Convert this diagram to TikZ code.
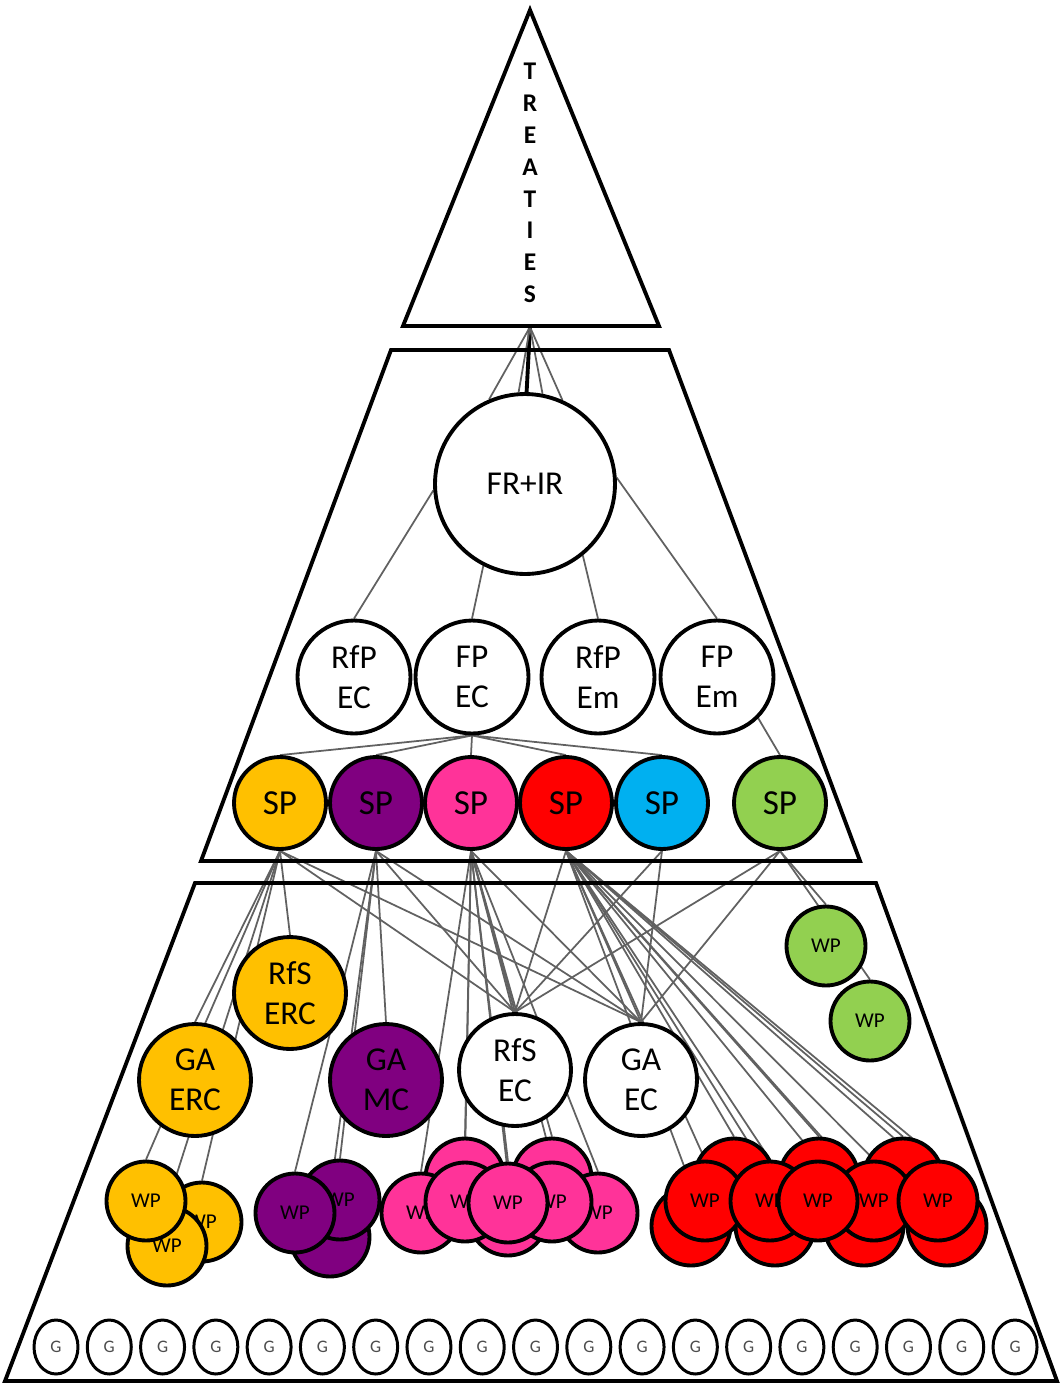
\documentclass[tikz,border=0pt]{standalone}
\usepackage{fontspec}
\setmainfont{Carlito}
\usetikzlibrary{positioning, shapes.geometric, backgrounds}
\definecolor{spyellow}{HTML}{FFC000}
\definecolor{sppurple}{HTML}{800080}
\definecolor{sppink}{HTML}{FF3399}
\definecolor{spred}{HTML}{FF0000}
\definecolor{spblue}{HTML}{00B0F0}
\definecolor{spgreen}{HTML}{92D050}
\begin{document}
\begin{tikzpicture}[
    x=0.02cm, y=-0.02cm,
    frame/.style={draw, line width=2.2pt, line join=miter},
    link/.style={draw=black!62, line width=1pt},
    bond/.style={draw, line width=2.2pt},
    blob/.style={circle, draw, line width=2.2pt, fill=white, inner sep=0pt, align=center},
    topc/.style={blob, minimum size=3.6cm, font=\fontsize{19}{23}\selectfont},
    progc/.style={blob, minimum size=2.26cm, font=\fontsize{19}{22.7}\selectfont},
    spc/.style={blob, minimum size=1.84cm, font=\fontsize{20}{24}\selectfont},
    instc/.style={blob, minimum size=2.24cm, font=\fontsize{19}{22.7}\selectfont},
    wpc/.style={blob, minimum size=1.58cm, font=\fontsize{12}{14}\selectfont},
    gc/.style={ellipse, draw, line width=1.7pt, fill=white, inner sep=0pt, minimum width=0.88cm, minimum height=1.08cm, font=\fontsize{10}{12}\selectfont, text=black!70}
]
    \useasboundingbox (0,0) rectangle (1060,1384);

    % levels
    \coordinate (apex) at (530,10);
    \coordinate (treatyBase) at (530,327);
    \draw[frame] (apex) -- (659,326) -- (403,326) -- cycle;
    \draw[frame] (391,350) -- (669,350) -- (860,861) -- (201,861) -- cycle;
    \draw[frame] (195,883) -- (876,883) -- (1057,1381) -- (5,1381) -- cycle;
    \node[font=\bfseries\fontsize{14.5}{18.1}\selectfont, align=center, inner sep=0pt] (treaties) at (530,183) {T\\R\\E\\A\\T\\I\\E\\S};

    \node[topc] (frir) at (525,484) {FR+IR};
    \node[progc] (rfpEC) at (354,677) {RfP\\EC};
    \node[progc] (fpEC) at (472,677) {FP\\EC};
    \node[progc] (rfpEm) at (598,677) {RfP\\Em};
    \node[progc] (fpEm) at (717,677) {FP\\Em};

    \node[spc, fill=spyellow] (sp1) at (280,803) {SP};
    \node[spc, fill=sppurple] (sp2) at (376,803) {SP};
    \node[spc, fill=sppink] (sp3) at (471,803) {SP};
    \node[spc, fill=spred] (sp4) at (566,803) {SP};
    \node[spc, fill=spblue] (sp5) at (662,803) {SP};
    \node[spc, fill=spgreen] (sp6) at (780,803) {SP};

    \node[instc, fill=spyellow] (rfsERC) at (290,993) {RfS\\ERC};
    \node[instc, fill=spyellow] (gaERC) at (195,1080) {GA\\ERC};
    \node[instc, fill=sppurple] (gaMC) at (386,1080) {GA\\MC};
    \node[instc] (rfsEC) at (515,1070) {RfS\\EC};
    \node[instc] (gaEC) at (641,1080) {GA\\EC};

    \node[wpc, fill=spgreen] (wpG1) at (826,946) {WP};
    \node[wpc, fill=spgreen] (wpG2) at (870,1021) {WP};

    \node[wpc, fill=spyellow] (wpY1) at (202,1222) {WP};
    \node[wpc, fill=spyellow] (wpY2) at (167,1246) {WP};
    \node[wpc, fill=spyellow] (wpY3) at (146,1201) {WP};

    \node[wpc, fill=sppurple] (wpP1) at (330,1237) {};
    \node[wpc, fill=sppurple] (wpP2) at (340,1200) {WP};
    \node[wpc, fill=sppurple] (wpP3) at (295,1213) {WP};

    \node[wpc, fill=sppink] (wpK1) at (465,1178) {};
    \node[wpc, fill=sppink] (wpK2) at (552,1178) {};
    \node[wpc, fill=sppink] (wpK3) at (508,1216) {};
    \node[wpc, fill=sppink] (wpK4) at (421,1213) {WP};
    \node[wpc, fill=sppink] (wpK5) at (598,1213) {WP};
    \node[wpc, fill=sppink] (wpK6) at (465,1202) {WP};
    \node[wpc, fill=sppink] (wpK7) at (552,1202) {WP};
    \node[wpc, fill=sppink] (wpK8) at (508,1203) {WP};

    \node[wpc, fill=spred] (wpR1) at (734,1178) {};
    \node[wpc, fill=spred] (wpR2) at (819,1178) {};
    \node[wpc, fill=spred] (wpR3) at (903,1178) {};
    \node[wpc, fill=spred] (wpR4) at (691,1226) {};
    \node[wpc, fill=spred] (wpR5) at (775,1226) {};
    \node[wpc, fill=spred] (wpR6) at (864,1226) {};
    \node[wpc, fill=spred] (wpR7) at (947,1226) {};
    \node[wpc, fill=spred] (wpR8) at (705,1201) {WP};
    \node[wpc, fill=spred] (wpR9) at (770,1201) {WP};
    \node[wpc, fill=spred] (wpR10) at (874,1201) {WP};
    \node[wpc, fill=spred] (wpR11) at (938,1201) {WP};
    \node[wpc, fill=spred] (wpR12) at (818,1201) {WP};

    \foreach \i in {0,...,18}
        \node[gc] (g\i) at ({56+53.28*\i},1347) {G};

    \begin{scope}[on background layer]
        \draw[bond] (treatyBase) -- (frir.89);
        \foreach \a in {66,79,94,113}
            \draw[link] (treatyBase) -- (frir.\a);

        \draw[link] (frir.184) -- (rfpEC.north);
        \draw[link] (frir.243) -- (fpEC.north);
        \draw[link] (frir.309) -- (rfpEm.north);
        \draw[link] (frir.4) -- (fpEm.north);

        \foreach \s in {sp1,sp2,sp3,sp4,sp5}
            \draw[link] (fpEC.south) -- (\s.north);
        \draw[link] (fpEm.-45) -- (sp6.north);

        \foreach \s in {sp1,sp2,sp3,sp4,sp5,sp6} {
            \draw[link] (\s.south) -- (rfsEC.north);
            \draw[link] (\s.south) -- (gaEC.north);
        }

        \foreach \t in {rfsERC,gaERC,wpY1,wpY2,wpY3}
            \draw[link] (sp1.south) -- (\t.north);
        \foreach \t in {gaMC,wpP1,wpP2,wpP3}
            \draw[link] (sp2.south) -- (\t.north);
        \foreach \t in {wpK1,wpK2,wpK3,wpK4,wpK5,wpK6,wpK7,wpK8}
            \draw[link] (sp3.south) -- (\t.north);
        \foreach \t in {wpR1,wpR2,wpR3,wpR4,wpR5,wpR6,wpR7,wpR8,wpR9,wpR10,wpR11,wpR12}
            \draw[link] (sp4.south) -- (\t.north);
        \foreach \t in {wpG1,wpG2}
            \draw[link] (sp6.south) -- (\t.north);
    \end{scope}
\end{tikzpicture}
\end{document}
